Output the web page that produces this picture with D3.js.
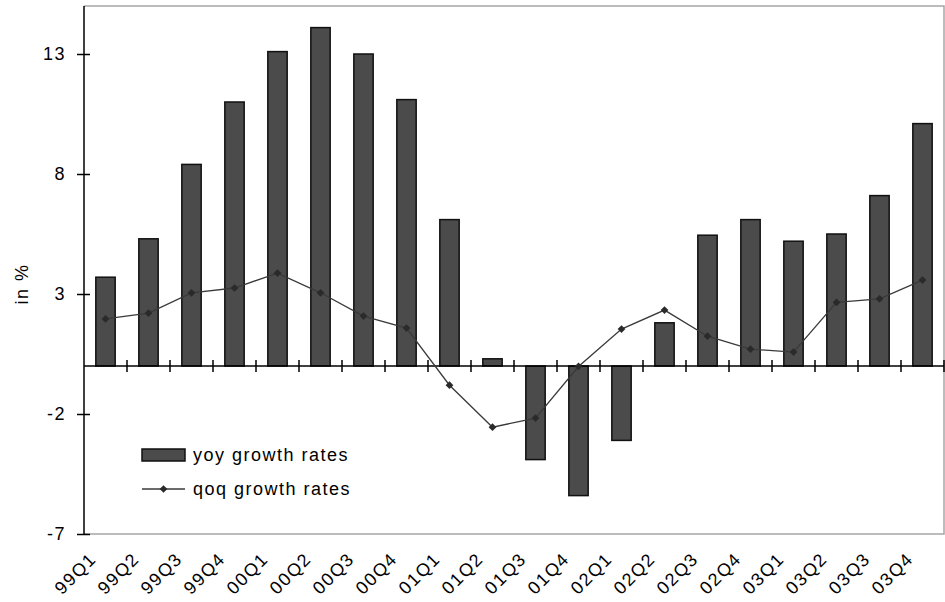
<!DOCTYPE html>
<html>
<head>
<meta charset="utf-8">
<script src="https://cdn.jsdelivr.net/npm/d3@7"></script>
<style>
  html, body { margin: 0; padding: 0; background: #fff; }
  svg text { font-family: "Liberation Sans", Arial, sans-serif; fill: #000; }
</style>
</head>
<body>
<svg id="chart" width="945" height="602"></svg>
<script>
// Quarterly growth rates, 1999Q1 – 2003Q4
const quarters = ["99Q1","99Q2","99Q3","99Q4","00Q1","00Q2","00Q3","00Q4",
                  "01Q1","01Q2","01Q3","01Q4","02Q1","02Q2","02Q3","02Q4",
                  "03Q1","03Q2","03Q3","03Q4"];
const yoyGrowth = [3.7, 5.3, 8.4, 11.0, 13.1, 14.1, 13.0, 11.1,
                   6.1, 0.3, -3.9, -5.4, -3.1, 1.8, 5.45, 6.1,
                   5.2, 5.5, 7.1, 10.1];
const qoqGrowth = [1.96, 2.2, 3.05, 3.25, 3.87, 3.05, 2.08, 1.58,
                   -0.8, -2.55, -2.17, -0.02, 1.54, 2.33, 1.24, 0.7,
                   0.58, 2.65, 2.8, 3.58];
const yTicks = [-7, -2, 3, 8, 13];
const seriesNames = ["yoy growth rates", "qoq growth rates"];

const svg = d3.select("#chart");
const plot = { left: 84, right: 944, top: 6, bottom: 534 };

const x = d3.scaleBand().domain(quarters).range([plot.left, plot.right]).padding(0);
const y = d3.scaleLinear().domain([-7, 15]).range([plot.bottom, plot.top]);
const barW = x.bandwidth() * 0.45;

const textStyle = sel => sel.attr("font-size", 18).attr("letter-spacing", 1.5);

// frame (top, right, bottom) in grey
svg.append("path")
  .attr("d", `M${plot.left},${plot.top}H${plot.right}V${plot.bottom}H${plot.left}`)
  .attr("fill", "none").attr("stroke", "#a6a6a6").attr("stroke-width", 1.5);

// bars
svg.append("g").selectAll("rect").data(yoyGrowth).join("rect")
  .attr("x", (d, i) => x(quarters[i]) + (x.bandwidth() - barW) / 2)
  .attr("y", d => y(Math.max(0, d)))
  .attr("width", barW)
  .attr("height", d => Math.abs(y(d) - y(0)))
  .attr("fill", "#4b4b4b").attr("stroke", "#111").attr("stroke-width", 1.5);

// y axis with crossing ticks
const yAxis = svg.append("g").attr("transform", `translate(${plot.left},0)`)
  .call(d3.axisLeft(y).tickValues(yTicks).tickFormat(d => String(d)).tickSize(7).tickPadding(12));
yAxis.select(".domain").attr("stroke", "#000").attr("stroke-width", 1.5)
  .attr("d", `M0,${plot.top}V${plot.bottom}`);
yAxis.selectAll(".tick line").attr("x1", 6).attr("stroke", "#000").attr("stroke-width", 1.5);
yAxis.selectAll(".tick text").call(textStyle).attr("x", -18);

// zero line with crossing category ticks
const bounds = d3.range(1, quarters.length + 1).map(k => plot.left + k * x.step());
svg.append("line")
  .attr("x1", plot.left).attr("x2", plot.right)
  .attr("y1", y(0)).attr("y2", y(0))
  .attr("stroke", "#000").attr("stroke-width", 1.5);
svg.append("g").selectAll("line").data(bounds).join("line")
  .attr("x1", d => d).attr("x2", d => d)
  .attr("y1", y(0) - 6).attr("y2", y(0) + 6)
  .attr("stroke", "#000").attr("stroke-width", 1.5);

// category labels, rotated
svg.append("g").selectAll("text").data(quarters).join("text")
  .attr("transform", d => `translate(${x(d) + x.bandwidth() / 2 - 8},560) rotate(-45)`)
  .attr("text-anchor", "end")
  .call(textStyle)
  .text(d => d);

// y axis title
svg.append("text")
  .attr("transform", "translate(28,284) rotate(-90)")
  .attr("text-anchor", "middle")
  .call(textStyle)
  .text("in %");

// qoq line with diamond markers
const cx = i => x(quarters[i]) + x.bandwidth() / 2;
svg.append("path")
  .datum(qoqGrowth)
  .attr("d", d3.line().x((d, i) => cx(i)).y(d => y(d)))
  .attr("fill", "none").attr("stroke", "#3a3a3a").attr("stroke-width", 1.3);
const diamond = d3.symbol().type(d3.symbolSquare).size(30);
svg.append("g").selectAll("path").data(qoqGrowth).join("path")
  .attr("transform", (d, i) => `translate(${cx(i)},${y(d)}) rotate(45)`)
  .attr("d", diamond)
  .attr("fill", "#2a2a2a");

// legend
const lg = svg.append("g").attr("transform", "translate(142,449)");
lg.append("rect").attr("x", 0).attr("y", 0).attr("width", 43).attr("height", 12)
  .attr("fill", "#4b4b4b").attr("stroke", "#111").attr("stroke-width", 1.5);
lg.append("text").attr("x", 51).attr("y", 12).call(textStyle).text(seriesNames[0]);
lg.append("line").attr("x1", 0).attr("x2", 43).attr("y1", 40).attr("y2", 40)
  .attr("stroke", "#3a3a3a").attr("stroke-width", 1.3);
lg.append("path").attr("transform", "translate(21.5,40) rotate(45)").attr("d", diamond).attr("fill", "#2a2a2a");
lg.append("text").attr("x", 51).attr("y", 46).call(textStyle).text(seriesNames[1]);
</script>
</body>
</html>
